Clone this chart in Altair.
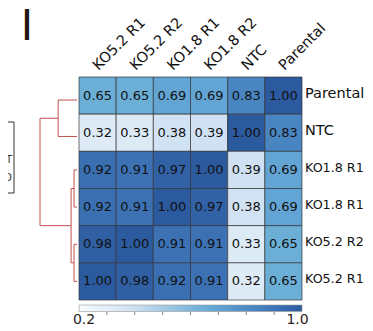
import altair as alt
import pandas as pd

# ---------------- data ----------------
cols = ["KO5.2 R1", "KO5.2 R2", "KO1.8 R1", "KO1.8 R2", "NTC", "Parental"]
rows = ["Parental", "NTC", "KO1.8 R1", "KO1.8 R1", "KO5.2 R2", "KO5.2 R1"]
values = [
    [0.65, 0.65, 0.69, 0.69, 0.83, 1.00],
    [0.32, 0.33, 0.38, 0.39, 1.00, 0.83],
    [0.92, 0.91, 0.97, 1.00, 0.39, 0.69],
    [0.92, 0.91, 1.00, 0.97, 0.38, 0.69],
    [0.98, 1.00, 0.91, 0.91, 0.33, 0.65],
    [1.00, 0.98, 0.92, 0.91, 0.32, 0.65],
]

# dendrogram: leaf positions (row units) and merges (child a, child b, height)
leaf_pos = [0.62, 1.6, 2.5, 3.5, 4.5, 5.5]
merges = [(2, 3, 0.08), (4, 5, 0.08), (6, 7, 0.16), (0, 1, 0.51), (9, 8, 1.0)]

cb_range = [0.2, 1.0]
cb_ticks = [0.3, 0.4, 0.5, 0.6, 0.7, 0.8, 0.9]
cb_labels = ["0.2", "1.0"]

legend_items = ["WT", "KO"]
panel_label = "I"

color_domain = [0.2, 0.32, 0.39, 0.65, 0.69, 0.83, 0.92, 1.0]
color_range = ["#f7fbff", "#deebf7", "#cfe1f2", "#6baed6", "#62a4d3",
               "#4985c1", "#3a6fb2", "#2c5a9f"]

FONT = "DejaVu Sans"

# ---------------- tables ----------------
cells = []
for i, r in enumerate(rows):
    for j, c in enumerate(cols):
        v = values[i][j]
        cells.append({"r": i, "r2": i + 1, "c": j, "c2": j + 1,
                      "rc": i + 0.5, "cc": j + 0.5, "v": v, "t": f"{v:.2f}"})
cells = pd.DataFrame(cells)

col_df = pd.DataFrame({"cc": [j + 0.5 for j in range(len(cols))], "label": cols})
row_df = pd.DataFrame({"rc": [i + 0.5 for i in range(len(rows))], "label": rows,
                       "idx": list(range(len(rows)))})

nodes = [(0.0, y) for y in leaf_pos]
segs = []
for a, b, h in merges:
    ha, ya = nodes[a]
    hb, yb = nodes[b]
    segs.append({"h1": ha, "y1": ya, "h2": h, "y2": ya})
    segs.append({"h1": hb, "y1": yb, "h2": h, "y2": yb})
    segs.append({"h1": h, "y1": ya, "h2": h, "y2": yb})
    nodes.append((h, (ya + yb) / 2))
seg_df = pd.DataFrame(segs)

# ---------------- scales ----------------
X_HM = alt.Scale(domain=[0, 6], range=[71, 294], nice=False, zero=False)
Y_HM = alt.Scale(domain=[0, 6], range=[69, 292], nice=False, zero=False)
X_DEN = alt.Scale(domain=[0, 1], range=[69, 32], nice=False, zero=False)
X_CB = alt.Scale(domain=cb_range, range=[71, 294], nice=False, zero=False)
COLOR = alt.Scale(domain=color_domain, range=color_range, interpolate="rgb")

heat = alt.Chart(cells).mark_rect(stroke="#333333", strokeWidth=0.8, strokeOpacity=0.85).encode(
    x=alt.X("c:Q", scale=X_HM, axis=None), x2="c2",
    y=alt.Y("r:Q", scale=Y_HM, axis=None), y2="r2",
    color=alt.Color("v:Q", scale=COLOR, legend=None),
)

nums = alt.Chart(cells).mark_text(font=FONT, fontSize=13, color="#111111",
                                  align="center", baseline="middle").encode(
    x=alt.X("cc:Q", scale=X_HM, axis=None),
    y=alt.Y("rc:Q", scale=Y_HM, axis=None),
    text="t:N",
)

col_labels = alt.Chart(col_df).mark_text(font=FONT, fontSize=14.5, color="#111111",
                                         align="left", baseline="alphabetic",
                                         angle=315, xOffset=1).encode(
    x=alt.X("cc:Q", scale=X_HM, axis=None),
    y=alt.value(63),
    text="label:N",
)

row_labels = alt.Chart(row_df).mark_text(font=FONT, color="#111111",
                                         align="left", baseline="middle", dy=-2).encode(
    x=alt.value(297),
    y=alt.Y("rc:Q", scale=Y_HM, axis=None),
    text="label:N",
    size=alt.condition(alt.datum.idx >= 2, alt.value(12.7), alt.value(14.5)),
)

dendro = alt.Chart(seg_df).mark_rule(color="#c0504d", strokeWidth=1).encode(
    x=alt.X("h1:Q", scale=X_DEN, axis=None), x2="h2",
    y=alt.Y("y1:Q", scale=Y_HM, axis=None), y2="y2",
)

stops = [alt.GradientStop(offset=(d - cb_range[0]) / (cb_range[1] - cb_range[0]), color=c)
         for d, c in zip(color_domain, color_range)]
cb_df = pd.DataFrame({"a": [cb_range[0]], "b": [cb_range[1]]})
cbar = alt.Chart(cb_df).mark_rect(
    fill=alt.LinearGradient(gradient="linear", stops=stops, x1=0, x2=1, y1=0, y2=0),
    stroke="#999999", strokeWidth=0.6,
).encode(
    x=alt.X("a:Q", scale=X_CB, axis=None), x2="b",
    y=alt.value(297), y2=alt.value(303.5),
)

tick_df = pd.DataFrame({"t": cb_ticks})
cticks = alt.Chart(tick_df).mark_rule(color="#666666", strokeWidth=0.8).encode(
    x=alt.X("t:Q", scale=X_CB, axis=None),
    y=alt.value(304), y2=alt.value(307),
)

lab_lo = alt.Chart(pd.DataFrame({"v": [cb_range[0]], "t": [cb_labels[0]]})).mark_text(
    font=FONT, fontSize=14, color="#2b1d1d", align="center", baseline="middle", xOffset=5
).encode(x=alt.X("v:Q", scale=X_CB, axis=None), y=alt.value(311.5), text="t:N")
lab_hi = alt.Chart(pd.DataFrame({"v": [cb_range[1]], "t": [cb_labels[1]]})).mark_text(
    font=FONT, fontSize=14, color="#2b1d1d", align="center", baseline="middle", xOffset=-4.5
).encode(x=alt.X("v:Q", scale=X_CB, axis=None), y=alt.value(311.5), text="t:N")

panel = alt.Chart(pd.DataFrame({"t": [panel_label]})).mark_text(
    font=FONT, fontSize=42, color="#221714", align="center", baseline="alphabetic"
).encode(x=alt.value(19), y=alt.value(31.5), text="t:N")

box = alt.Chart(pd.DataFrame({"a": [0]})).mark_rect(
    fill="white", stroke="#333333", strokeWidth=1
).encode(x=alt.value(-30), x2=alt.value(6), y=alt.value(114), y2=alt.value(185))

box_text = alt.Chart(pd.DataFrame({"t": legend_items, "i": [0, 1]})).mark_text(
    font=FONT, fontSize=10, color="#333333", align="right", baseline="middle"
).encode(
    x=alt.value(4),
    y=alt.Y("i:Q", scale=alt.Scale(domain=[0, 1], range=[152, 170], nice=False, zero=False), axis=None),
    text="t:N",
)

chart = alt.layer(
    heat, nums, col_labels, row_labels, dendro, cbar, cticks, lab_lo, lab_hi,
    panel, box, box_text,
).resolve_scale(
    x="independent", y="independent", color="independent", size="independent"
).properties(
    width=357, height=323, padding=0,
    autosize=alt.AutoSizeParams(type="none"),
    background="white",
).configure_view(stroke=None)

chart.save("out.html", embed_options={"renderer": "svg", "actions": False})
